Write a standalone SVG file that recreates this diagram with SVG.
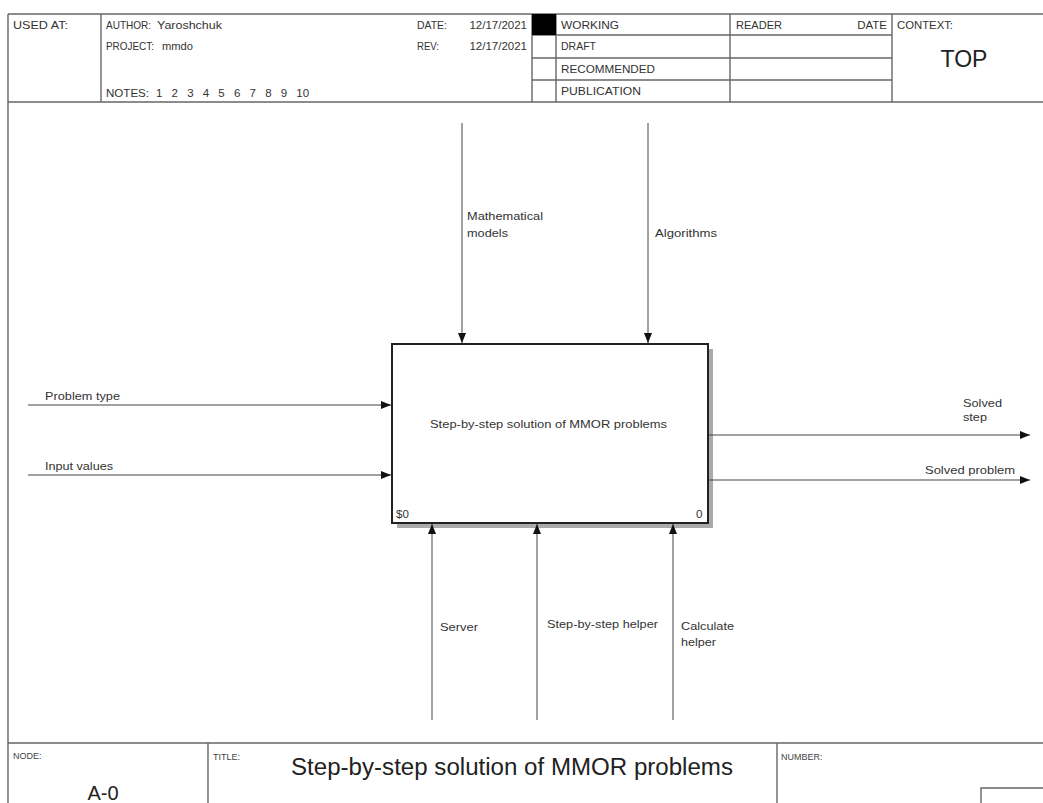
<svg xmlns="http://www.w3.org/2000/svg" width="1043" height="803" viewBox="0 0 1043 803">
<defs>
<marker id="arr" markerWidth="10" markerHeight="8" refX="10" refY="4" orient="auto" markerUnits="userSpaceOnUse">
<path d="M0,0 L10,4 L0,8 Z" fill="#111"/>
</marker>
</defs>
<style>
.t{font-family:"Liberation Sans",Arial,sans-serif;font-size:11.5px;fill:#333}
.s{font-family:"Liberation Sans",Arial,sans-serif;font-size:9px;fill:#444}
.frame{stroke:#666;stroke-width:1.4;fill:none}
.conn{stroke:#444;stroke-width:1;fill:none}
</style>
<rect width="1043" height="803" fill="#fff"/>
<g id="frame">
<line class="frame" x1="8" y1="14" x2="1043" y2="14"/>
<line class="frame" x1="8" y1="102" x2="1043" y2="102"/>
<line class="frame" x1="8" y1="14" x2="8" y2="803"/>
<line class="frame" x1="101" y1="14" x2="101" y2="102"/>
<line class="frame" x1="532" y1="14" x2="532" y2="102"/>
<line class="frame" x1="556" y1="14" x2="556" y2="102"/>
<line class="frame" x1="730" y1="14" x2="730" y2="102"/>
<line class="frame" x1="892" y1="14" x2="892" y2="102"/>
<line class="frame" x1="532" y1="35" x2="892" y2="35"/>
<line class="frame" x1="532" y1="58" x2="892" y2="58"/>
<line class="frame" x1="532" y1="80" x2="892" y2="80"/>
<rect x="532" y="14" width="24" height="21" fill="#000"/>
<line class="frame" x1="8" y1="743" x2="1043" y2="743"/>
<line class="frame" x1="208" y1="743" x2="208" y2="803"/>
<line class="frame" x1="777" y1="743" x2="777" y2="803"/>
<polyline class="frame" points="981,803 981,788 1043,788"/>
</g>
<g id="header-text">
<text class="t" x="13" y="29" textLength="55" lengthAdjust="spacingAndGlyphs">USED AT:</text>
<text class="t" x="106" y="29" textLength="45" lengthAdjust="spacingAndGlyphs">AUTHOR:</text>
<text class="t" x="157" y="29" textLength="65" lengthAdjust="spacingAndGlyphs">Yaroshchuk</text>
<text class="t" x="106" y="50" textLength="48" lengthAdjust="spacingAndGlyphs">PROJECT:</text>
<text class="t" x="162" y="50" textLength="31" lengthAdjust="spacingAndGlyphs">mmdo</text>
<text class="t" x="106" y="97" textLength="43" lengthAdjust="spacingAndGlyphs">NOTES:</text>
<text class="t" x="156" y="97" word-spacing="6">1 2 3 4 5 6 7 8 9 10</text>
<text class="t" x="417" y="29" textLength="30" lengthAdjust="spacingAndGlyphs">DATE:</text>
<text class="t" x="527" y="29" text-anchor="end">12/17/2021</text>
<text class="t" x="417" y="50" textLength="22" lengthAdjust="spacingAndGlyphs">REV:</text>
<text class="t" x="527" y="50" text-anchor="end">12/17/2021</text>
<text class="t" x="561" y="29" textLength="58" lengthAdjust="spacingAndGlyphs">WORKING</text>
<text class="t" x="561" y="50" textLength="35" lengthAdjust="spacingAndGlyphs">DRAFT</text>
<text class="t" x="561" y="73" textLength="94" lengthAdjust="spacingAndGlyphs">RECOMMENDED</text>
<text class="t" x="561" y="95" textLength="80" lengthAdjust="spacingAndGlyphs">PUBLICATION</text>
<text class="t" x="736" y="29" textLength="46" lengthAdjust="spacingAndGlyphs">READER</text>
<text class="t" x="887" y="29" text-anchor="end">DATE</text>
<text class="t" x="897" y="29" textLength="56" lengthAdjust="spacingAndGlyphs">CONTEXT:</text>
<text x="964" y="67" text-anchor="middle" style="font-family:'Liberation Sans',Arial,sans-serif;font-size:23px;fill:#222">TOP</text>
</g>
<g id="footer-text">
<text class="s" x="13" y="759">NODE:</text>
<text x="103" y="800" text-anchor="middle" style="font-family:'Liberation Sans',Arial,sans-serif;font-size:20px;fill:#222">A-0</text>
<text class="s" x="213" y="760">TITLE:</text>
<text x="291" y="775" textLength="442" lengthAdjust="spacingAndGlyphs" style="font-family:'Liberation Sans',Arial,sans-serif;font-size:23px;fill:#222">Step-by-step solution of MMOR problems</text>
<text class="s" x="781" y="760">NUMBER:</text>
</g>
<g id="node-A0">
<rect x="397" y="349" width="316" height="179" fill="#aaa"/>
<rect x="392" y="344" width="316" height="179" fill="#fff" stroke="#222" stroke-width="2"/>
<text class="t" x="430" y="428" textLength="237" lengthAdjust="spacingAndGlyphs">Step-by-step solution of MMOR problems</text>
<text class="t" x="396" y="518">$0</text>
<text class="t" x="696" y="518">0</text>
</g>
<g id="connectors">
<line class="conn" x1="462" y1="123" x2="462" y2="343" marker-end="url(#arr)"/>
<line class="conn" x1="648" y1="123" x2="648" y2="343" marker-end="url(#arr)"/>
<line class="conn" x1="28" y1="405" x2="391" y2="405" marker-end="url(#arr)"/>
<line class="conn" x1="28" y1="475" x2="391" y2="475" marker-end="url(#arr)"/>
<line class="conn" x1="709" y1="435" x2="1030" y2="435" marker-end="url(#arr)"/>
<line class="conn" x1="709" y1="480" x2="1030" y2="480" marker-end="url(#arr)"/>
<line class="conn" x1="432" y1="720" x2="432" y2="524" marker-end="url(#arr)"/>
<line class="conn" x1="537" y1="720" x2="537" y2="524" marker-end="url(#arr)"/>
<line class="conn" x1="673" y1="720" x2="673" y2="524" marker-end="url(#arr)"/>
</g>
<g id="labels">
<text class="t" x="467" y="220" textLength="76" lengthAdjust="spacingAndGlyphs">Mathematical</text>
<text class="t" x="467" y="237" textLength="41" lengthAdjust="spacingAndGlyphs">models</text>
<text class="t" x="655" y="237" textLength="62" lengthAdjust="spacingAndGlyphs">Algorithms</text>
<text class="t" x="45" y="400" textLength="75" lengthAdjust="spacingAndGlyphs">Problem type</text>
<text class="t" x="45" y="470" textLength="68" lengthAdjust="spacingAndGlyphs">Input values</text>
<text class="t" x="963" y="407" textLength="39" lengthAdjust="spacingAndGlyphs">Solved</text>
<text class="t" x="963" y="421" textLength="24" lengthAdjust="spacingAndGlyphs">step</text>
<text class="t" x="925" y="474" textLength="90" lengthAdjust="spacingAndGlyphs">Solved problem</text>
<text class="t" x="440" y="631" textLength="38" lengthAdjust="spacingAndGlyphs">Server</text>
<text class="t" x="547" y="628" textLength="111" lengthAdjust="spacingAndGlyphs">Step-by-step helper</text>
<text class="t" x="681" y="630" textLength="53" lengthAdjust="spacingAndGlyphs">Calculate</text>
<text class="t" x="681" y="646" textLength="35" lengthAdjust="spacingAndGlyphs">helper</text>
</g>
</svg>
